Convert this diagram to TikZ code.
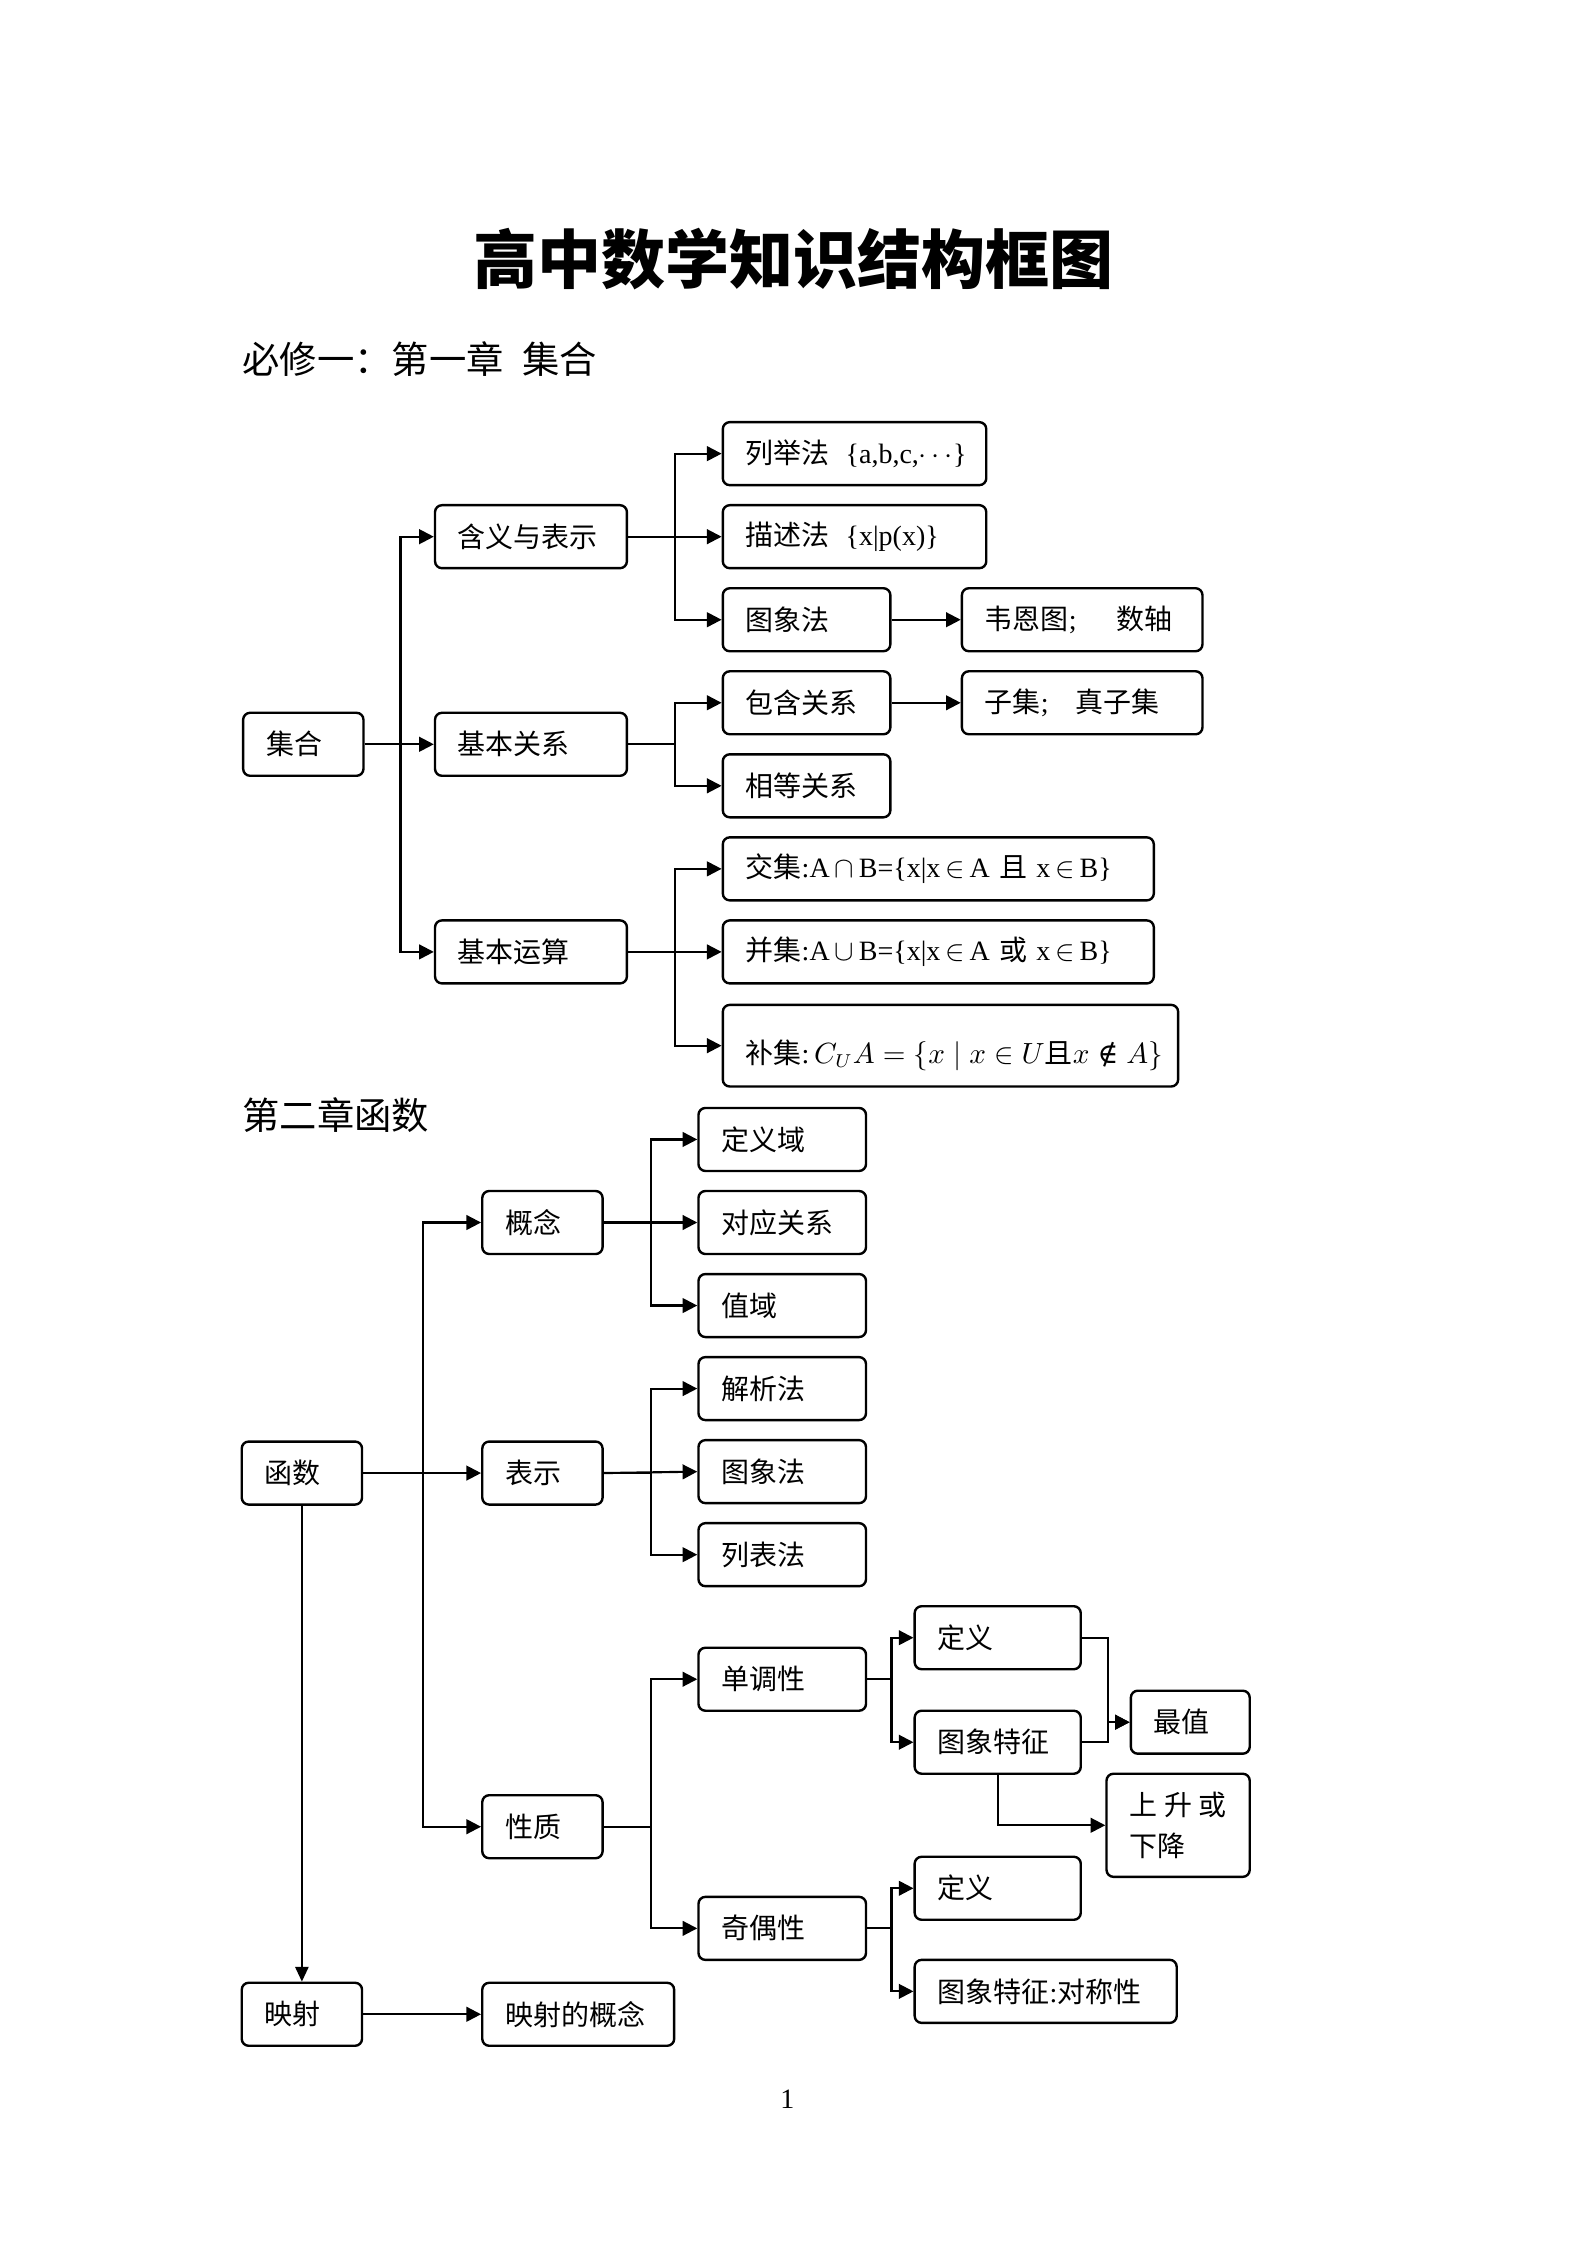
\documentclass[tikz,border=0pt]{standalone}
\usepackage{fontspec}
\setmainfont{Noto Sans CJK SC}
\newfontfamily\tm{Liberation Serif}
\newfontfamily\djs{DejaVu Serif}
\usetikzlibrary{arrows.meta}
\setlength{\parindent}{0pt}
\def\myu{0.5371pt}
\newcommand\mybox[6]{%
  \pgfmathsetlengthmacro\mybw{(#4-#2)*\myu}%
  \pgfmathsetlengthmacro\mybh{(#5-#3)*\myu}%
  \pgfmathsetlengthmacro\mytw{(#4-#2-32)*\myu}%
  \node[bx, minimum width=\mybw, minimum height=\mybh, text width=\mytw, anchor=north west] (#1) at (#2,#3) {#6};}
\tikzset{
  bx/.style={draw, line width=0.9pt, rounded corners=2.6pt, inner xsep=8.6pt, inner ysep=0pt, align=left,
    font=\fontsize{10.5pt}{15.6pt}\selectfont},
  con/.style={line width=0.8pt},
  arr/.style={line width=0.8pt, -{Triangle[length=5.5pt,width=5.5pt]}},
  thinarr/.style={line width=0.6pt, -{Triangle[length=5.5pt,width=5pt]}},
}
\begin{document}
\begin{tikzpicture}[x=\myu, y=-\myu]
\useasboundingbox (0,0) rectangle (1108,1568);
% titles
\node[font=\fontsize{24pt}{28pt}\selectfont\bfseries] (title) at (554,181) {高中数学知识结构框图};
\node[anchor=west, inner sep=0pt, font=\fontsize{14pt}{16pt}\selectfont] (h1) at (169,251) {必修一：第一章\hspace{0.5em}集合};
\node[anchor=west, inner sep=0pt, font=\fontsize{14pt}{16pt}\selectfont] (h2) at (169,779) {第二章函数};
\node[font=\fontsize{10.5pt}{12pt}\selectfont\tm] (pg) at (550,1466) {1};
% ---- chapter 1 ----
\mybox{jh}{169}{497}{253}{541}{集合}
\mybox{hy}{303}{352}{437}{396}{含义与表示}
\mybox{jbgx}{303}{497}{437}{541}{基本关系}
\mybox{jbys}{303}{642}{437}{686}{基本运算}
\mybox{ljf}{504}{294}{688}{338}{\mbox{列举法\hspace{6pt}{\tm\{a,b,c,$\cdots$\}}}}
\mybox{msf}{504}{352}{688}{396}{\mbox{描述法\hspace{6pt}{\tm\{x|p(x)\}}}}
\mybox{txf}{504}{410}{621}{454}{图象法}
\mybox{wen}{671}{410}{839}{454}{\mbox{韦恩图{\tm;}\hspace{15pt}数轴}}
\mybox{bh}{504}{468}{621}{512}{包含关系}
\mybox{zj}{671}{468}{839}{512}{\mbox{子集{\tm;}\hspace{10pt}真子集}}
\mybox{xd}{504}{526}{621}{570}{相等关系}
\mybox{jiao}{504}{584}{805}{628}{\mbox{交集{\tm :A$\,\cap\,$B=\{x|x$\,\in\,$A }且{\tm\ x$\,\in\,$B\}}}}
\mybox{bing}{504}{642}{805}{686}{\mbox{并集{\tm :A$\,\cup\,$B=\{x|x$\,\in\,$A }或{\tm\ x$\,\in\,$B\}}}}
\mybox{bu}{504}{701}{822}{758}{\mbox{\rule{0pt}{16pt}补集{\tm :}\,$C_U A=\{x\mid x\in U\mbox{且}x\mathrel{\mbox{\djs ∉}} A\}$}}
% connectors ch1
\draw[arr] (jh.east) -- (jbgx.west);
\draw[arr] (jh.east) -- ++(25,0) |- (hy.west);
\draw[arr] (jh.east) -- ++(25,0) |- (jbys.west);
\draw[arr] (hy.east) -- (msf.west);
\draw[arr] (hy.east) -- ++(33,0) |- (ljf.west);
\draw[arr] (hy.east) -- ++(33,0) |- (txf.west);
\draw[arr] (txf.east) -- (wen.west);
\draw[arr] (jbgx.east) -- ++(33,0) |- (bh.west);
\draw[arr] (jbgx.east) -- ++(33,0) |- (xd.west);
\draw[arr] (bh.east) -- (zj.west);
\draw[arr] (jbys.east) -- (bing.west);
\draw[arr] (jbys.east) -- ++(33,0) |- (jiao.west);
\draw[arr] (jbys.east) -- ++(33,0) |- (bu.west);
% ---- chapter 2 ----
\mybox{hs}{168}{1006}{252}{1050}{函数}
\mybox{gn}{336}{831}{420}{875}{概念}
\mybox{bs}{336}{1006}{420}{1050}{表示}
\mybox{xz}{336}{1253}{420}{1297}{性质}
\mybox{ys}{168}{1384}{252}{1428}{映射}
\mybox{ysgn}{336}{1384}{470}{1428}{\mbox{映射的概念}}
\mybox{dyy}{487}{773}{604}{817}{定义域}
\mybox{dygx}{487}{831}{604}{875}{对应关系}
\mybox{zy}{487}{889}{604}{933}{值域}
\mybox{jxf}{487}{947}{604}{991}{解析法}
\mybox{txfb}{487}{1005}{604}{1049}{图象法}
\mybox{lbf}{487}{1063}{604}{1107}{列表法}
\mybox{ddx}{487}{1150}{604}{1194}{单调性}
\mybox{jox}{487}{1324}{604}{1368}{奇偶性}
\mybox{dya}{638}{1121}{754}{1165}{定义}
\mybox{tza}{638}{1194}{754}{1238}{\mbox{图象特征}}
\mybox{zz}{789}{1180}{872}{1224}{最值}
\mybox{ss}{772}{1238}{872}{1310}{\mbox{上\hspace{2.5pt}升\hspace{2.5pt}或}\\\mbox{下降}}
\mybox{dyb}{638}{1296}{754}{1340}{定义}
\mybox{tzb}{638}{1368}{821}{1412}{\mbox{图象特征{\tm :}对称性}}
% connectors ch2
\draw[arr] (hs.east) -- (bs.west);
\draw[arr] (hs.east) -- ++(42,0) |- (gn.west);
\draw[arr] (hs.east) -- ++(42,0) |- (xz.west);
\draw[thinarr] (hs.south) -- (ys.north);
\draw[arr] (ys.east) -- (ysgn.west);
\draw[arr] (gn.east) -- (dygx.west);
\draw[arr] (gn.east) -- ++(33,0) |- (dyy.west);
\draw[arr] (gn.east) -- ++(33,0) |- (zy.west);
\draw[arr] (bs.east) -- (txfb.west);
\draw[arr] (bs.east) -- ++(33,0) |- (jxf.west);
\draw[arr] (bs.east) -- ++(33,0) |- (lbf.west);
\draw[arr] (xz.east) -- ++(33,0) |- (ddx.west);
\draw[arr] (xz.east) -- ++(33,0) |- (jox.west);
\draw[arr] (ddx.east) -- ++(17,0) |- (dya.west);
\draw[arr] (ddx.east) -- ++(17,0) |- (tza.west);
\draw[arr] (dya.east) -- ++(18,0) |- (zz.west);
\draw[arr] (tza.east) -- ++(18,0) |- (zz.west);
\draw[arr] (tza.south) |- (ss.west);
\draw[arr] (jox.east) -- ++(17,0) |- (dyb.west);
\draw[arr] (jox.east) -- ++(17,0) |- (tzb.west);
\end{tikzpicture}
\end{document}
